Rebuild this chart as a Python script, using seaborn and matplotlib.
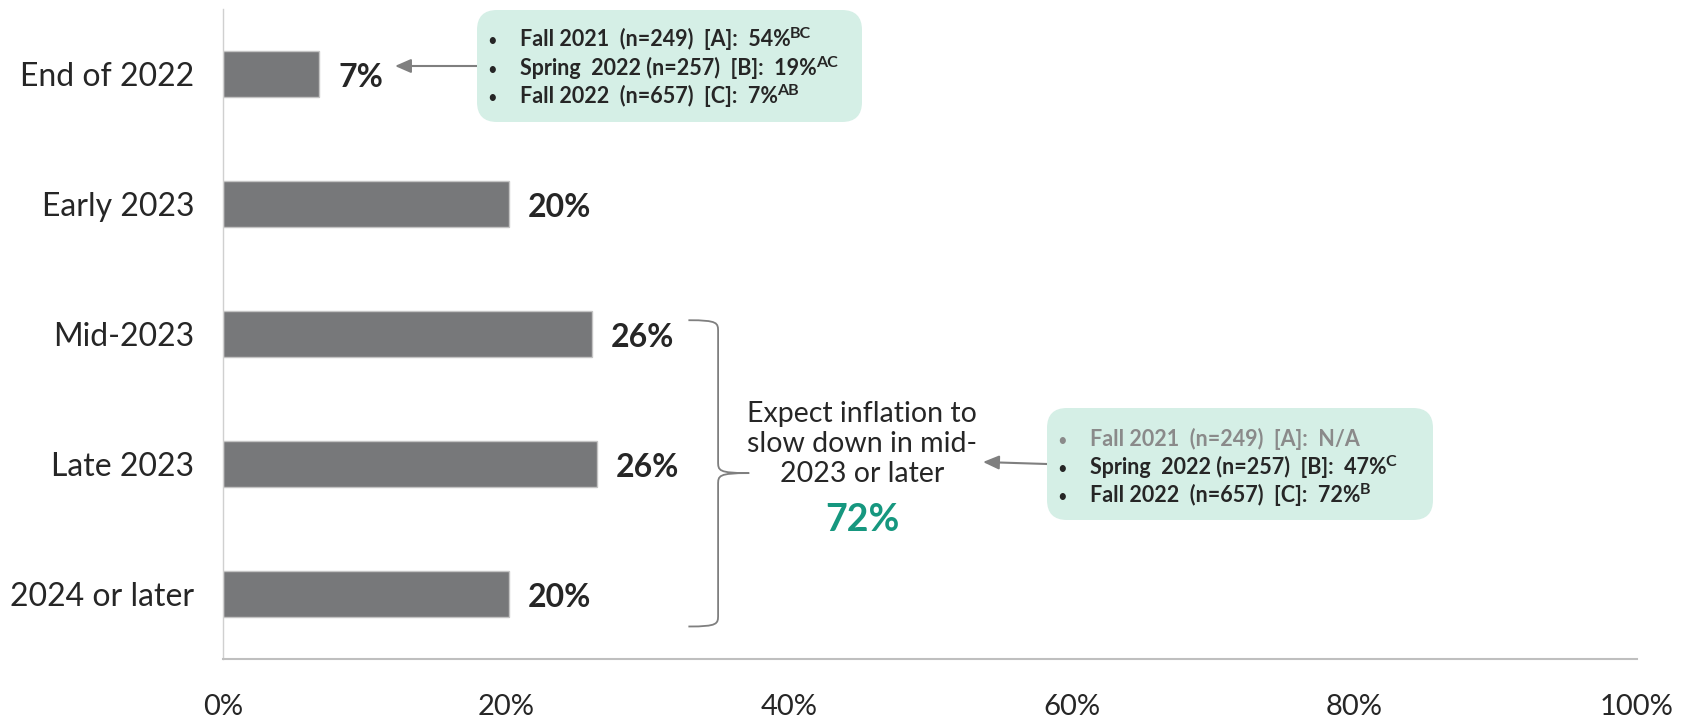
import matplotlib
matplotlib.use("Agg")
import matplotlib.pyplot as plt
import seaborn as sns
import pandas as pd
from matplotlib.transforms import Affine2D
from matplotlib.patches import FancyBboxPatch, PathPatch
from matplotlib.path import Path
from matplotlib import font_manager

# ---------------- data ----------------
categories = ["End of 2022", "Early 2023", "Mid-2023", "Late 2023", "2024 or later"]
values = [6.8, 20.2, 26.1, 26.4, 20.2]
xticks = [0, 20, 40, 60, 80, 100]
xtick_labels = ["0%", "20%", "40%", "60%", "80%", "100%"]

box1_lines = [
    ("Fall 2021  (n=249)  [A]:  54%", "BC", "#262626"),
    ("Spring  2022 (n=257)  [B]:  19%", "AC", "#262626"),
    ("Fall 2022  (n=657)  [C]:  7%", "AB", "#262626"),
]
box2_lines = [
    ("Fall 2021  (n=249)  [A]:  N/A", "", "#8a8a8a"),
    ("Spring  2022 (n=257)  [B]:  47%", "C", "#262626"),
    ("Fall 2022  (n=657)  [C]:  72%", "B", "#262626"),
]
brace_text = "Expect inflation to\nslow down in mid-\n2023 or later"
brace_value = "72%"

# ---------------- style ----------------
sns.set_theme(style="white")
plt.rcParams["font.family"] = ["Lato", "DejaVu Sans"]

names = {f.name for f in font_manager.fontManager.ttflist}
tick_font = "Liberation Sans Narrow" if "Liberation Sans Narrow" in names else "Lato"

W, H = 1694, 718
fig = plt.figure(figsize=(W / 100, H / 100), dpi=100)
ax = fig.add_axes([223.3 / W, 1 - 659 / H, (1637 - 223.3) / W, (659 - 9) / H])

df = pd.DataFrame({"cat": categories, "val": values})
sns.barplot(data=df, x="val", y="cat", orient="h", color="#77787a",
            saturation=1, width=0.36, edgecolor="#c4c4c4", linewidth=1, ax=ax)

ax.set_xlim(0, 100)
ax.set_ylim(4.5, -0.5)
ax.set_xticks(xticks)
ax.set_xticklabels(xtick_labels, fontfamily=tick_font, fontsize=21, color="#262626")
ax.tick_params(axis="x", length=0, pad=25)
ax.tick_params(axis="y", length=0, pad=21, labelsize=23, labelcolor="#262626")
ax.set_xlabel("")
ax.set_ylabel("")
for s in ["top", "right"]:
    ax.spines[s].set_visible(False)
ax.spines["left"].set_color("#d0d0d0")
ax.spines["left"].set_linewidth(1)
ax.spines["bottom"].set_color("#bfbfbf")
ax.spines["bottom"].set_linewidth(1.5)

labels = ax.bar_label(ax.containers[0], labels=[f"{round(v)}%" for v in values],
                      padding=13.5, fontsize=23, fontweight="bold", color="#262626")
for t in labels:
    x0, y0 = t.xyann
    t.xyann = (x0, y0 - 2.8)

# pixel transform (origin top-left)
T = Affine2D().scale(1, -1).translate(0, H)
renderer = fig.canvas.get_renderer()

def draw_box(x0, y0, x1, y1, lines, bullet_x, text_x, baselines):
    box = FancyBboxPatch((x0 + 18, y0 + 18), (x1 - x0) - 36, (y1 - y0) - 36,
                         boxstyle="round,pad=18,rounding_size=20",
                         transform=T, facecolor="#d5efe6", edgecolor="none",
                         figure=fig)
    fig.patches.append(box)
    for (txt, sup, col), yb in zip(lines, baselines):
        fig.text(bullet_x, yb, "•", transform=T, fontsize=12, color=col,
                 va="baseline", ha="left")
        t = fig.text(text_x, yb, txt, transform=T, fontsize=15.5, fontweight="bold",
                     color=col, va="baseline", ha="left")
        if sup:
            ext = t.get_window_extent(renderer=renderer)
            fig.text(ext.x1 - 1, yb - 8, sup, transform=T, fontsize=11.5,
                     fontweight="bold", color=col, va="baseline", ha="left")

draw_box(477, 10, 862, 122, box1_lines, 487, 520, [45.5, 75, 103])
draw_box(1047, 408, 1433, 520, box2_lines, 1057, 1090, [445.5, 474, 502.5])

# arrows
ax.annotate("", xy=(395, 66), xytext=(477, 66), xycoords=T, textcoords=T,
            arrowprops=dict(arrowstyle="-|>,head_length=0.8,head_width=0.35",
                            color="#7f7f7f", lw=1.5, shrinkA=0, shrinkB=0),
            annotation_clip=False)
ax.annotate("", xy=(983, 462), xytext=(1047, 464), xycoords=T, textcoords=T,
            arrowprops=dict(arrowstyle="-|>,head_length=0.8,head_width=0.35",
                            color="#7f7f7f", lw=1.5, shrinkA=0, shrinkB=0),
            annotation_clip=False)

# brace (data coords)
xa, xv, xt = 32.9, 35.0, 37.2
yt, ym, yb = 1.894, 3.07, 4.25
verts = [
    (xa, yt), (xv, yt), (xv, yt + 0.02), (xv, yt + 0.09),
    (xv, ym - 0.09),
    (xv, ym - 0.02), (xv, ym), (xt, ym),
    (xv, ym), (xv, ym + 0.02), (xv, ym + 0.09),
    (xv, yb - 0.09),
    (xv, yb - 0.02), (xv, yb), (xa, yb),
]
codes = [Path.MOVETO, Path.CURVE4, Path.CURVE4, Path.CURVE4,
         Path.LINETO,
         Path.CURVE4, Path.CURVE4, Path.CURVE4,
         Path.CURVE4, Path.CURVE4, Path.CURVE4,
         Path.LINETO,
         Path.CURVE4, Path.CURVE4, Path.CURVE4]
ax.add_patch(PathPatch(Path(verts, codes), facecolor="none", edgecolor="#7f7f7f",
                       lw=1.3, clip_on=False))

ax.text(45.2, 2.845, brace_text, ha="center", va="center", fontsize=20.5,
        color="#262626", linespacing=1.2)
ax.text(45.2, 3.43, brace_value, ha="center", va="center", fontsize=27,
        fontweight="bold", color="#16977f")

fig.savefig("out.png", dpi=100)
